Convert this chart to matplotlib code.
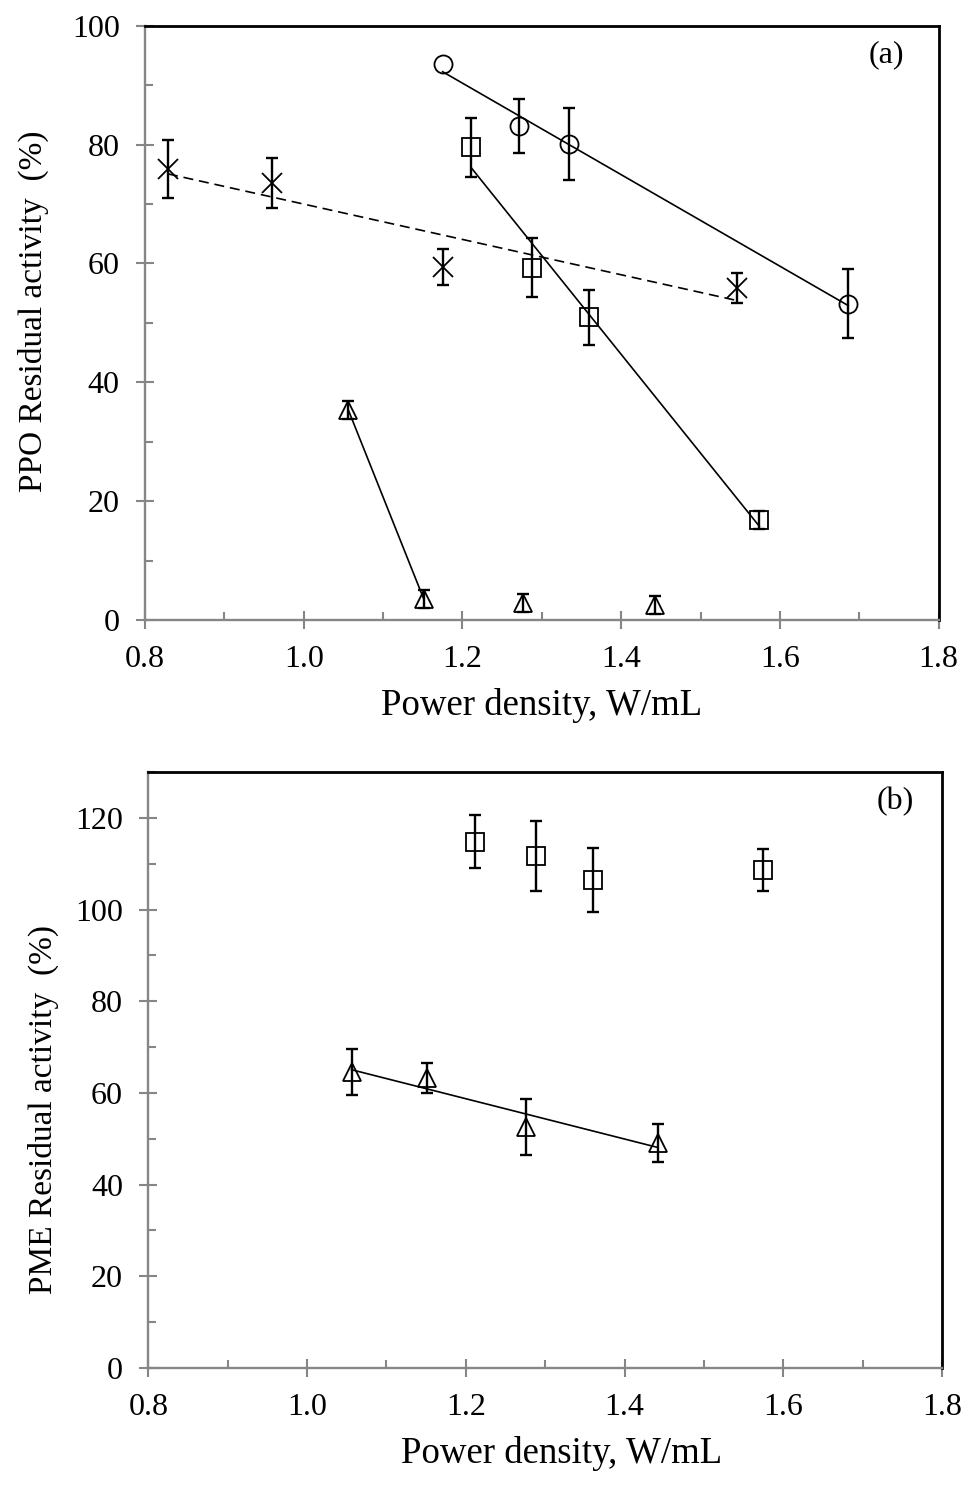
import matplotlib

matplotlib.use("Agg")

import matplotlib.pyplot as plt
import numpy as np
from matplotlib.ticker import FormatStrFormatter, MultipleLocator

plt.rcParams["font.family"] = ["Liberation Serif", "DejaVu Serif"]

# power density (W/mL) for each treatment series
X_CIRCLE = [1.175, 1.271, 1.334, 1.686]
X_SQUARE = [1.211, 1.288, 1.360, 1.574]
X_CROSS = [0.829, 0.960, 1.176, 1.546]
X_TRIANGLE = [1.056, 1.151, 1.276, 1.442]

# PPO residual activity (%), panel (a)
PPO_CIRCLE = [93.6, 83.1, 80.1, 53.2]
PPO_CIRCLE_ERR = [0.0, 4.5, 6.0, 5.8]
PPO_SQUARE = [79.5, 59.3, 50.9, 16.8]
PPO_SQUARE_ERR = [4.9, 5.0, 4.6, 1.5]
PPO_CROSS = [75.9, 73.5, 59.4, 55.9]
PPO_CROSS_ERR = [4.9, 4.2, 3.0, 2.5]
PPO_TRIANGLE = [35.4, 3.6, 2.8, 2.5]
PPO_TRIANGLE_ERR = [1.5, 1.5, 1.5, 1.5]

# PME residual activity (%), panel (b)
PME_SQUARE = [114.8, 111.7, 106.5, 108.6]
PME_SQUARE_ERR = [5.8, 7.6, 7.0, 4.6]
PME_TRIANGLE = [64.5, 63.2, 52.6, 49.1]
PME_TRIANGLE_ERR = [5.0, 3.3, 6.1, 4.2]

# plotting parameters
FIG_SIZE = (9.68, 14.9)
GRAY = "#868686"
X_LABEL = "Power density, W/mL"
TICK_SIZE = 23
XLABEL_SIZE = 26.5
YLABEL_SIZE = 24


def add_series(ax, x, y, err, marker, ms, n_fit=0, fit_ls="-"):
    """Markers with error bars, plus a linear trend line over the first n_fit points."""
    x, y, err = np.asarray(x), np.asarray(y), np.asarray(err)
    if n_fit:
        coef = np.polyfit(x[:n_fit], y[:n_fit], 1)
        xs = np.array([x[:n_fit].min(), x[:n_fit].max()])
        ax.plot(xs, np.polyval(coef, xs), color="black", lw=1.2, ls=fit_ls, zorder=2)
    keep = err > 0
    ax.errorbar(
        x[keep], y[keep], yerr=err[keep], fmt="none", ecolor="black",
        elinewidth=1.7, capsize=4, capthick=1.7, zorder=3,
    )
    ax.plot(
        x, y, ls="none", marker=marker, ms=ms, mfc="none", mec="black",
        mew=1.3, zorder=4,
    )


def style_axes(ax, y_max, y_label, tag, tag_xy, ylab_xy, xlab_xy):
    ax.set_xlim(0.8, 1.8)
    ax.set_ylim(0, y_max)
    ax.xaxis.set_major_locator(MultipleLocator(0.2))
    ax.xaxis.set_minor_locator(MultipleLocator(0.1))
    ax.xaxis.set_major_formatter(FormatStrFormatter("%.1f"))
    ax.yaxis.set_major_locator(MultipleLocator(20))
    ax.yaxis.set_minor_locator(MultipleLocator(10))
    for side in ["left", "bottom"]:
        ax.spines[side].set_color(GRAY)
        ax.spines[side].set_linewidth(1.7)
    for side in ["top", "right"]:
        ax.spines[side].set_color("black")
        ax.spines[side].set_linewidth(2.0)
    ax.tick_params(which="major", direction="inout", length=12.5, width=1.5,
                   color=GRAY, labelsize=TICK_SIZE, pad=12)
    ax.tick_params(which="minor", direction="in", length=6, width=1.5, color=GRAY)
    ax.set_xlabel(X_LABEL, fontsize=XLABEL_SIZE)
    ax.set_ylabel(y_label, fontsize=YLABEL_SIZE)
    ax.xaxis.set_label_coords(*xlab_xy)
    ax.yaxis.set_label_coords(*ylab_xy)
    ax.text(*tag_xy, tag, transform=ax.transAxes, ha="center", va="center",
            fontsize=23)


fig = plt.figure(figsize=FIG_SIZE, dpi=100)
ax_a = fig.add_axes([0.1498, 0.5839, 0.8199, 0.3989])
ax_b = fig.add_axes([0.1532, 0.0819, 0.8202, 0.4000])

add_series(ax_a, X_CIRCLE, PPO_CIRCLE, PPO_CIRCLE_ERR, "o", 13, n_fit=4)
add_series(ax_a, X_SQUARE, PPO_SQUARE, PPO_SQUARE_ERR, "s", 13, n_fit=4)
add_series(ax_a, X_CROSS, PPO_CROSS, PPO_CROSS_ERR, "x", 14, n_fit=4,
           fit_ls=(0, (6, 3.5)))
add_series(ax_a, X_TRIANGLE, PPO_TRIANGLE, PPO_TRIANGLE_ERR, "^", 13, n_fit=2)
style_axes(ax_a, 100, "PPO Residual activity  (%)", "(a)", (0.9345, 0.9507),
           (-0.121, 0.52), (0.5, -0.115))

add_series(ax_b, X_SQUARE, PME_SQUARE, PME_SQUARE_ERR, "s", 13)
add_series(ax_b, X_TRIANGLE, PME_TRIANGLE, PME_TRIANGLE_ERR, "^", 13, n_fit=4)
style_axes(ax_b, 130, "PME Residual activity  (%)", "(b)", (0.9404, 0.950),
           (-0.113, 0.433), (0.52, -0.114))

fig.savefig("out.png", dpi=100)
